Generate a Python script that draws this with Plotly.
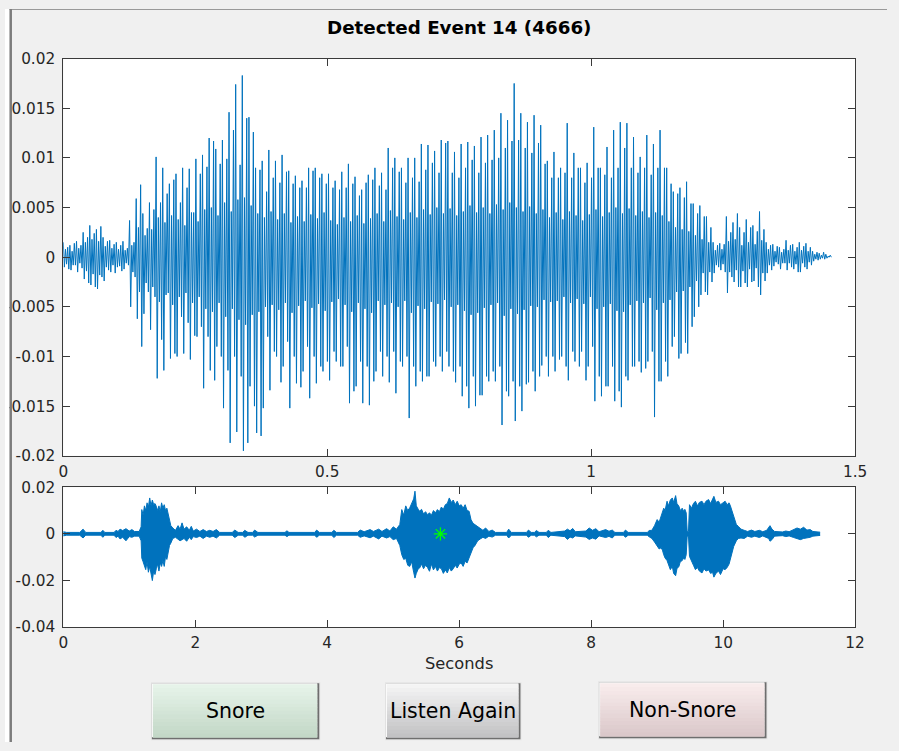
import numpy as np
import plotly.graph_objects as go

W, H = 899, 751

# The page shows the figure slightly reduced and offset inside the window;
# layout positions below are given in window pixels and mapped back here.
VIEW_SX, VIEW_OX = 0.985, 3.5
VIEW_SY, VIEW_OY = 0.978, 8.3

# ---- Detected event waveform ------------------------------------------------
# One entry per pitch period: main peak, main trough, inner ripple peak/trough,
# secondary peak, secondary trough (units of 1e-3).
ev_peak = [1.5, 1.2, 1.6, 2.5, 3.2, 2.8, 2.0, 1.7, 1.5, 1.6,
           3.7, 5.9, 4.4, 5.5, 10.1, 9.0, 7.4, 8.4, 9.0, 8.9,
           9.9, 10.3, 12.0, 10.9, 11.8, 14.6, 17.4, 18.3, 14.1, 9.0,
           9.7, 10.8, 9.7, 10.3, 8.7, 8.2, 7.7, 9.0, 9.0, 8.4,
           8.4, 7.7, 8.6, 9.4, 8.1, 6.8, 8.3, 9.0, 8.5, 11.0,
           10.0, 9.0, 10.0, 10.0, 11.4, 11.3, 10.7, 11.8, 11.7, 10.6,
           11.4, 11.6, 11.2, 12.1, 12.3, 12.8, 14.5, 13.8, 17.5, 14.5,
           13.6, 14.3, 13.3, 9.7, 10.6, 9.0, 13.5, 10.5, 9.0, 9.5,
           13.1, 9.0, 11.1, 12.8, 13.6, 13.5, 12.1, 10.1, 12.3, 11.4,
           12.8, 9.0, 6.6, 7.0, 7.6, 5.4, 5.2, 4.1, 1.5, 1.4,
           4.1, 3.5, 3.0, 3.8, 3.2, 4.6, 1.5, 1.3, 1.0, 1.7,
           1.3, 1.5, 1.4, 0.6, 0.4, 0.3]
ev_trough = [-1.0, -1.3, -1.5, -2.2, -2.8, -3.2, -2.4, -1.5, -1.0, -1.2,
             -5.0, -6.2, -5.7, -7.3, -12.2, -11.4, -10.2, -10.0, -9.7, -10.3,
             -8.0, -13.2, -11.4, -9.0, -15.2, -18.7, -17.6, -19.5, -13.0, -17.7,
             -15.2, -13.4, -10.0, -11.0, -15.2, -12.7, -11.5, -14.2, -12.7, -11.5,
             -12.4, -10.5, -11.0, -14.7, -13.0, -14.7, -14.9, -11.5, -12.0, -12.6,
             -13.7, -11.0, -16.2, -13.0, -12.5, -12.0, -11.0, -11.5, -11.0, -12.6,
             -14.0, -15.2, -15.0, -13.9, -12.5, -12.5, -16.9, -14.0, -16.5, -15.5,
             -12.6, -13.5, -10.9, -12.0, -11.5, -10.0, -12.4, -10.5, -9.5, -11.0,
             -14.5, -14.0, -13.0, -14.5, -15.1, -12.4, -11.0, -11.6, -10.5, -16.1,
             -12.5, -12.0, -8.0, -9.7, -9.7, -6.0, -3.8, -3.8, -1.6, -1.3,
             -3.6, -2.5, -3.0, -3.0, -2.4, -3.8, -1.6, -0.9, -1.2, -1.3,
             -1.2, -1.5, -1.2, -0.4, -0.2, -0.1]
ev_ripple_hi = [0.8, 0.6, 0.9, 1.5, 1.8, 1.6, 1.1, 0.9, 0.8, 0.7,
                1.2, 3.0, 2.2, 2.8, 4.0, 3.5, 4.2, 3.8, 3.2, 4.5,
                3.6, 4.8, 5.0, 4.2, 5.5, 4.6, 5.8, 6.0, 5.2, 4.4,
                4.0, 4.6, 3.8, 4.4, 3.5, 4.1, 3.6, 4.3, 3.9, 4.5,
                3.7, 3.3, 4.0, 3.6, 4.2, 3.4, 3.9, 4.4, 3.6, 4.7,
                4.1, 3.8, 4.5, 4.0, 4.8, 4.3, 5.0, 4.4, 4.9, 4.2,
                4.6, 5.2, 4.5, 5.0, 4.4, 5.3, 4.8, 5.5, 5.0, 4.6,
                5.1, 4.4, 4.8, 4.0, 4.5, 3.8, 4.6, 4.2, 3.7, 4.3,
                4.8, 4.1, 4.5, 5.0, 4.4, 4.9, 4.2, 4.6, 4.0, 4.5,
                4.2, 3.6, 3.0, 2.8, 2.6, 2.2, 1.8, 1.5, 0.7, 0.8,
                1.6, 1.8, 1.2, 1.5, 1.3, 1.7, 0.8, 0.6, 0.5, 0.7,
                0.6, 0.7, 0.6, 0.3, 0.2, 0.1]
ev_ripple_lo = [-0.7, -0.8, -0.6, -1.4, -1.7, -1.8, -1.0, -0.8, -0.9, -0.6,
                -1.5, -3.5, -2.6, -3.0, -4.5, -3.8, -4.8, -4.0, -3.6, -4.6,
                -4.0, -5.2, -5.5, -4.6, -6.0, -5.2, -6.3, -6.8, -5.8, -5.5,
                -5.0, -4.8, -5.3, -4.6, -5.6, -4.9, -4.4, -5.1, -4.7, -5.4,
                -4.5, -4.2, -4.8, -5.5, -4.6, -5.2, -5.6, -4.4, -4.8, -4.6,
                -5.0, -4.4, -5.6, -4.9, -5.2, -4.5, -4.7, -4.3, -5.0, -4.8,
                -5.4, -5.8, -5.6, -5.1, -4.8, -4.6, -5.9, -5.2, -5.7, -5.3,
                -4.9, -5.0, -4.3, -4.5, -4.4, -4.0, -4.6, -4.2, -4.7, -4.0,
                -5.2, -5.0, -4.7, -5.4, -5.5, -4.8, -4.4, -4.6, -4.1, -5.3,
                -4.6, -4.3, -3.5, -3.4, -3.0, -2.4, -1.6, -1.5, -0.8, -0.7,
                -1.5, -1.3, -1.4, -1.2, -1.1, -1.6, -0.8, -0.5, -0.6, -0.6,
                -0.7, -0.6, -0.5, -0.2, -0.1, 0.0]
ev_peak2 = [1.0, 1.4, 1.2, 2.0, 2.4, 3.1, 1.6, 1.3, 1.2, 0.9,
            1.5, 7.3, 2.9, 4.8, 5.5, 6.4, 7.8, 5.5, 7.0, 4.5,
            8.4, 9.1, 11.7, 9.4, 9.9, 12.8, 9.3, 14.0, 12.6, 8.8,
            6.6, 8.0, 7.5, 8.6, 7.4, 7.0, 7.0, 8.7, 8.0, 7.4,
            7.0, 6.8, 7.0, 7.4, 6.2, 7.5, 7.8, 7.2, 6.8, 9.0,
            8.6, 7.5, 8.0, 7.6, 8.8, 9.5, 8.5, 11.5, 8.5, 8.0,
            9.0, 9.8, 8.5, 9.5, 9.8, 10.0, 11.0, 11.7, 11.8, 11.0,
            10.5, 11.5, 9.4, 8.0, 8.0, 8.5, 8.0, 9.0, 7.5, 8.0,
            9.0, 8.3, 8.0, 9.0, 11.0, 9.0, 8.5, 9.0, 8.3, 9.0,
            9.0, 7.4, 6.4, 6.0, 5.4, 4.4, 4.1, 3.0, 1.2, 1.3,
            2.5, 4.4, 2.5, 3.0, 2.6, 2.8, 1.2, 1.1, 0.8, 1.2,
            1.0, 1.1, 1.0, 0.5, 0.5, 0.2]
ev_trough2 = [-1.2, -0.8, -1.1, -2.6, -3.0, -2.0, -1.3, -1.6, -1.4, -0.8,
              -2.0, -9.0, -3.5, -4.0, -8.3, -3.6, -9.7, -6.0, -6.6, -7.9,
              -7.0, -8.0, -12.4, -10.0, -11.4, -10.0, -12.0, -18.7, -15.0, -18.0,
              -8.0, -9.5, -12.6, -8.5, -10.0, -13.1, -9.0, -10.0, -11.0, -10.5,
              -9.5, -11.0, -9.0, -13.5, -10.5, -11.0, -12.5, -9.5, -10.0, -9.5,
              -10.5, -10.0, -11.0, -11.5, -12.0, -10.5, -10.0, -9.5, -11.5, -11.0,
              -13.0, -12.0, -13.9, -12.0, -11.5, -11.0, -13.5, -12.5, -13.0, -12.8,
              -11.5, -12.0, -10.0, -10.0, -10.3, -11.0, -9.5, -11.0, -12.4, -9.0,
              -12.0, -13.0, -11.0, -13.5, -12.0, -11.0, -10.5, -11.2, -9.5, -12.5,
              -10.5, -9.0, -10.2, -8.6, -7.0, -5.0, -3.5, -2.5, -1.0, -1.5,
              -2.0, -3.0, -2.6, -2.5, -3.0, -2.4, -1.3, -0.7, -0.6, -1.0,
              -1.5, -1.0, -0.8, -0.3, -0.2, 0.0]
EVENT_DURATION = 1.455  # seconds

# ---- Whole recording overview (envelope, units of 1e-3) ---------------------
rec_t = [0.00, 0.05, 0.25, 0.30, 0.34, 0.57, 0.60, 0.63, 0.77, 0.80,
         0.83, 0.86, 0.90, 0.95, 1.00, 1.04, 1.08, 1.15, 1.18,
         1.19, 1.21, 1.23, 1.25, 1.27, 1.29, 1.31, 1.33, 1.35, 1.37,
         1.39, 1.41, 1.43, 1.45, 1.47, 1.49, 1.51, 1.53, 1.55, 1.57,
         1.59, 1.61, 1.63, 1.66, 1.70, 1.74, 1.77, 1.80, 1.83, 1.87,
         1.91, 1.94, 1.97, 2.02, 2.07, 2.12, 2.17, 2.22, 2.27, 2.32,
         2.37, 2.56, 2.60, 2.65, 2.72, 2.75, 2.80, 2.87, 2.90, 2.95,
         3.36, 3.39, 3.42, 3.81, 3.84, 3.88, 4.07, 4.10, 4.14, 4.46,
         4.50, 4.56, 4.65, 4.70, 4.78, 4.83, 4.90, 4.95, 5.00, 5.05,
         5.10, 5.13, 5.16, 5.19, 5.22, 5.25, 5.28, 5.31, 5.33, 5.35,
         5.38, 5.40, 5.43, 5.46, 5.49, 5.52, 5.55, 5.58, 5.61, 5.64,
         5.67, 5.70, 5.73, 5.76, 5.79, 5.82, 5.85, 5.88, 5.91, 5.94,
         5.97, 6.00, 6.03, 6.06, 6.09, 6.12, 6.15, 6.18, 6.21, 6.24,
         6.28, 6.32, 6.36, 6.40, 6.45, 6.50, 6.55, 6.72, 6.75, 6.79,
         7.02, 7.05, 7.09, 7.14, 7.17, 7.21, 7.32, 7.35, 7.39, 7.60,
         7.64, 7.68, 7.72, 7.76, 7.92, 7.97, 8.02, 8.07, 8.12, 8.22,
         8.27, 8.32, 8.36, 8.49, 8.52, 8.56, 8.85, 8.88, 8.92, 8.96,
         9.00, 9.03, 9.06, 9.08, 9.10, 9.12, 9.15, 9.17, 9.20, 9.23,
         9.25, 9.28, 9.30, 9.33, 9.35, 9.38, 9.40, 9.42, 9.44, 9.455,
         9.475, 9.49, 9.52, 9.55, 9.58, 9.61, 9.64, 9.68, 9.71, 9.74,
         9.78, 9.81, 9.84, 9.86, 9.89, 9.93, 9.96, 10.00, 10.03, 10.06,
         10.09, 10.11, 10.14, 10.16, 10.20, 10.23, 10.27, 10.32, 10.37, 10.43,
         10.48, 10.55, 10.60, 10.66, 10.69, 10.71, 10.74, 10.78, 10.90, 10.95,
         11.00, 11.07, 11.12, 11.17, 11.22, 11.27, 11.32, 11.36, 11.47]
rec_hi = [0.9, 0.6, 0.6, 2.0, 0.6, 0.6, 1.5, 0.6, 0.6, 1.5,
          1.0, 2.0, 1.4, 2.2, 1.2, 1.8, 1.0, 1.0, 3.0,
          10.4, 8.0, 12.0, 10.0, 13.3, 11.5, 15.4, 12.0, 14.5, 12.5,
          13.0, 11.8, 10.0, 12.0, 9.5, 13.3, 11.0, 12.5, 10.0, 11.0,
          8.0, 6.1, 3.5, 2.5, 1.5, 3.5, 2.0, 4.7, 2.0, 3.0,
          1.5, 3.2, 1.2, 2.0, 1.0, 1.8, 1.0, 1.5, 1.0, 1.8,
          0.6, 0.6, 1.6, 0.6, 0.6, 1.5, 0.6, 0.6, 1.6, 0.6,
          0.6, 1.3, 0.6, 0.6, 1.6, 0.6, 0.6, 1.5, 0.6, 0.6,
          1.6, 0.9, 1.8, 1.0, 2.0, 1.0, 2.2, 1.2, 3.0, 2.0,
          4.0, 10.4, 8.0, 12.0, 10.0, 11.1, 13.0, 15.0, 18.3, 12.0,
          10.5, 9.7, 10.5, 8.5, 9.5, 8.2, 9.0, 8.0, 10.0, 9.0,
          10.4, 9.5, 11.5, 10.5, 12.5, 13.0, 15.4, 13.5, 14.5, 12.5,
          14.0, 12.0, 12.5, 11.0, 12.5, 10.0, 9.7, 6.0, 4.5, 3.9,
          3.0, 2.0, 1.5, 2.5, 1.0, 1.6, 0.6, 0.6, 2.0, 0.6,
          0.6, 1.6, 0.6, 0.6, 1.4, 0.6, 0.6, 1.5, 0.6, 1.2,
          2.0, 1.3, 2.3, 0.9, 1.2, 2.5, 1.5, 2.2, 0.9, 1.8,
          1.1, 1.6, 0.6, 0.6, 1.6, 0.6, 0.6, 1.4, 1.5, 3.5,
          6.1, 5.0, 8.0, 9.0, 11.0, 10.0, 14.0, 12.0, 14.5, 15.4,
          13.5, 16.4, 13.0, 11.8, 10.0, 11.0, 9.7, 10.5, 9.0, 1.0,
          1.0, 12.5, 11.0, 13.0, 14.0, 12.0, 13.5, 14.0, 12.5, 14.0,
          14.7, 13.0, 15.0, 16.1, 13.5, 14.0, 12.5, 13.5, 14.0, 12.5,
          13.3, 12.0, 9.0, 7.5, 4.0, 3.2, 2.0, 1.5, 1.0, 1.6,
          1.0, 1.5, 0.9, 1.5, 2.5, 3.5, 2.0, 1.0, 0.8, 1.2,
          0.9, 1.8, 2.5, 2.0, 2.8, 1.6, 1.8, 1.0, 0.7]
rec_lo = [-0.9, -0.6, -0.6, -1.8, -0.6, -0.6, -1.5, -0.6, -0.6, -1.6,
          -1.0, -2.2, -1.5, -3.0, -1.2, -1.5, -1.0, -1.0, -3.0,
          -10.4, -12.0, -13.5, -15.4, -12.0, -16.5, -14.0, -18.0, -20.1, -16.0,
          -17.5, -15.0, -13.0, -16.0, -12.5, -14.0, -11.5, -14.0, -9.7, -11.0,
          -8.0, -5.0, -4.0, -2.0, -1.5, -2.5, -3.0, -2.5, -2.0, -3.2,
          -1.5, -2.5, -1.2, -1.6, -1.0, -2.0, -1.0, -1.5, -1.0, -1.8,
          -0.6, -0.6, -1.6, -0.6, -0.6, -1.5, -0.6, -0.6, -1.4, -0.6,
          -0.6, -1.2, -0.6, -0.6, -1.5, -0.6, -0.6, -1.6, -0.6, -0.6,
          -1.5, -0.9, -1.7, -1.0, -2.2, -1.0, -1.8, -1.2, -2.5, -2.0,
          -5.0, -9.0, -11.0, -10.5, -13.5, -14.0, -12.0, -16.5, -19.0, -17.0,
          -15.0, -14.7, -13.0, -15.0, -13.5, -14.5, -16.1, -13.0, -15.5, -14.0,
          -16.0, -14.5, -15.0, -17.0, -15.5, -16.8, -14.5, -16.0, -15.0, -13.5,
          -14.7, -13.0, -12.5, -14.0, -11.8, -12.5, -10.0, -8.0, -6.0, -5.0,
          -3.0, -2.2, -1.5, -2.0, -1.0, -1.4, -0.6, -0.6, -1.8, -0.6,
          -0.6, -1.5, -0.6, -0.6, -1.3, -0.6, -0.6, -1.6, -0.6, -1.2,
          -2.4, -1.4, -1.8, -0.9, -1.4, -2.4, -1.8, -2.3, -0.9, -1.6,
          -1.1, -1.8, -0.6, -0.6, -1.5, -0.6, -0.6, -1.3, -2.0, -3.5,
          -5.0, -6.5, -6.0, -7.0, -9.0, -10.4, -11.5, -13.0, -15.4, -14.0,
          -17.0, -18.0, -15.0, -14.0, -12.0, -11.5, -10.4, -11.0, -9.0, -1.0,
          -1.0, -9.7, -12.0, -13.5, -15.4, -14.5, -16.0, -16.8, -15.0, -16.0,
          -15.5, -17.0, -16.5, -18.6, -17.0, -16.0, -17.5, -15.0, -15.4, -14.5,
          -13.0, -11.0, -8.0, -5.4, -3.0, -2.0, -1.8, -2.0, -1.0, -1.5,
          -1.0, -1.6, -0.9, -1.5, -2.0, -3.2, -2.5, -1.0, -0.8, -1.2,
          -0.9, -1.6, -2.2, -2.5, -2.0, -1.8, -1.5, -1.0, -0.7]

# Position of the detected event in the recording
event_t = [5.716]
event_v = [0.0]

# Axis ticks and labels
top_xticks = [0, 0.5, 1, 1.5]
top_xlabels = ["0", "0.5", "1", "1.5"]
top_yticks = [-0.02, -0.015, -0.01, -0.005, 0, 0.005, 0.01, 0.015, 0.02]
top_ylabels = ["-0.02", "-0.015", "-0.01", "-0.005", "0", "0.005", "0.01", "0.015", "0.02"]
bot_xticks = [0, 2, 4, 6, 8, 10, 12]
bot_xlabels = ["0", "2", "4", "6", "8", "10", "12"]
bot_yticks = [-0.04, -0.02, 0, 0.02]
bot_ylabels = ["-0.04", "-0.02", "0", "0.02"]

TITLE = "Detected Event 14 (4666)"
XLABEL = "Seconds"
BUTTONS = ["Snore", "Listen Again", "Non-Snore"]

# ---- derived series ----------------------------------------------------------
ev_samples = np.column_stack([ev_peak, ev_trough, ev_ripple_hi, ev_ripple_lo,
                              ev_peak2, ev_trough2]).ravel() * 1e-3
ev_time = np.linspace(0, EVENT_DURATION, ev_samples.size)
rec_hi_v = np.array(rec_hi) * 1e-3
rec_lo_v = np.array(rec_lo) * 1e-3

BLUE = "#0072BD"
AXC = "#3a3a3a"
TXT = "#262626"
FRAME = "#7c7c7c"
FONT = "DejaVu Sans"


def px(x):
    """Window x (pixels) -> paper fraction."""
    return ((x - VIEW_OX) / VIEW_SX) / W


def py(y):
    """Window y (pixels, downwards) -> paper fraction."""
    return 1 - ((y - VIEW_OY) / VIEW_SY) / H


fig = go.Figure()

fig.add_trace(go.Scatter(x=ev_time, y=ev_samples, mode="lines",
                         line=dict(color=BLUE, width=1),
                         xaxis="x", yaxis="y", showlegend=False))

fig.add_trace(go.Scatter(x=rec_t, y=rec_hi_v, mode="lines",
                         line=dict(color=BLUE, width=1),
                         xaxis="x2", yaxis="y2", showlegend=False))
fig.add_trace(go.Scatter(x=rec_t, y=rec_lo_v, mode="lines",
                         line=dict(color=BLUE, width=1), fill="tonexty",
                         fillcolor=BLUE,
                         xaxis="x2", yaxis="y2", showlegend=False))
fig.add_trace(go.Scatter(x=event_t, y=event_v, mode="markers",
                         marker=dict(symbol="asterisk-open", size=11, color="#00ff00",
                                     line=dict(color="#00ff00", width=1.3)),
                         xaxis="x2", yaxis="y2", showlegend=False))

axis_common = dict(showgrid=False, zeroline=False, showline=True,
                   linecolor=AXC, linewidth=1, mirror="ticks",
                   ticks="inside", ticklen=7, tickwidth=1, tickcolor=AXC,
                   tickfont=dict(family=FONT, size=15.3, color=TXT),
                   fixedrange=True)

fig.update_layout(
    width=W, height=H,
    margin=dict(l=0, r=0, t=0, b=0),
    paper_bgcolor="#f0f0f0",
    plot_bgcolor="#ffffff",
    xaxis=dict(domain=[px(62), px(857)], range=[0, 1.5], anchor="y",
               tickvals=top_xticks, ticktext=top_xlabels, ticklabelstandoff=2,
               **axis_common),
    yaxis=dict(domain=[py(456), py(58)], range=[-0.02, 0.02], anchor="x",
               tickvals=top_yticks, ticktext=top_ylabels, ticklabelstandoff=4,
               **axis_common),
    xaxis2=dict(domain=[px(62), px(857)], range=[0, 12], anchor="y2",
                tickvals=bot_xticks, ticktext=bot_xlabels, ticklabelstandoff=2,
                **axis_common),
    yaxis2=dict(domain=[py(627.5), py(487.5)], range=[-0.04, 0.02], anchor="x2",
                tickvals=bot_yticks, ticktext=bot_ylabels, ticklabelstandoff=4,
                **axis_common),
)

annotations = [
    dict(text="<b>%s</b>" % TITLE, x=px(459.5), y=py(27), xref="paper", yref="paper",
         showarrow=False, xanchor="center", yanchor="middle",
         font=dict(family=FONT, size=18.3, color="#000000")),
    dict(text=XLABEL, x=px(459.5), y=py(664), xref="paper", yref="paper",
         showarrow=False, xanchor="center", yanchor="middle",
         font=dict(family=FONT, size=16.3, color=TXT)),
]

shapes = []

# push buttons with a vertical shading
button_boxes = [(151, 684, 319, 740), (386, 684, 521, 740), (600, 683, 768, 739)]
button_shades = [((0xe6, 0xf3, 0xe9), (0xc3, 0xd8, 0xc7)),
                 ((0xf4, 0xf4, 0xf4), (0xc2, 0xc2, 0xc4)),
                 ((0xf8, 0xec, 0xec), (0xdb, 0xc8, 0xca))]
n_bands = 14
for (x0, y0, x1, y1), (top, bot), label in zip(button_boxes, button_shades, BUTTONS):
    shapes.append(dict(type="rect", xref="paper", yref="paper",
                       x0=px(x0 - 1), x1=px(x1 + 1), y0=py(y1 + 1), y1=py(y0 - 1),
                       fillcolor="#e4e4e4", line=dict(width=0), layer="above"))
    shapes.append(dict(type="rect", xref="paper", yref="paper",
                       x0=px(x0), x1=px(x1), y0=py(y1), y1=py(y0),
                       fillcolor="#6e6e6e", line=dict(width=0), layer="above"))
    shapes.append(dict(type="rect", xref="paper", yref="paper",
                       x0=px(x0), x1=px(x1 - 2), y0=py(y1 - 2), y1=py(y0),
                       fillcolor="#fafafa", line=dict(width=0), layer="above"))
    ix0, ix1, iy0, iy1 = x0 + 1, x1 - 2, y0 + 1, y1 - 2
    step = (iy1 - iy0) / n_bands
    for i in range(n_bands):
        f = i / (n_bands - 1)
        c = tuple(int(round(a + (b - a) * f)) for a, b in zip(top, bot))
        shapes.append(dict(type="rect", xref="paper", yref="paper",
                           x0=px(ix0), x1=px(ix1),
                           y0=py(iy0 + (i + 1) * step + 0.5), y1=py(iy0 + i * step),
                           fillcolor="rgb(%d,%d,%d)" % c, line=dict(width=0),
                           layer="above"))
    annotations.append(dict(text=label, x=px((x0 + x1) / 2), y=py((y0 + y1) / 2),
                            xref="paper", yref="paper", showarrow=False,
                            xanchor="center", yanchor="middle",
                            font=dict(family=FONT, size=20.5, color="#000000")))

# window edge: white margin on the left, then the dark frame line
shapes += [
    dict(type="rect", xref="paper", yref="paper", x0=0, x1=px(8), y0=0, y1=1,
         fillcolor="#ffffff", line=dict(width=0), layer="above"),
    dict(type="rect", xref="paper", yref="paper", x0=px(8), x1=px(10.5), y0=0, y1=1,
         fillcolor=FRAME, line=dict(width=0), layer="above"),
    dict(type="rect", xref="paper", yref="paper", x0=px(8), x1=1, y0=py(9), y1=1,
         fillcolor=FRAME, line=dict(width=0), layer="above"),
]

fig.update_layout(shapes=shapes, annotations=annotations)

# Page around the figure: white strip on the left and top, frame line, panel grey
page_bg = ("linear-gradient(to right, #ffffff 8px, transparent 8px), "
           "linear-gradient(#ffffff 6px, %s 6px, %s 9px, transparent 9px), "
           "linear-gradient(to right, transparent 8px, %s 8px, %s 10.5px, transparent 10.5px), "
           "#f0f0f0") % (FRAME, FRAME, FRAME, FRAME)
fig.write_html("out.html",
               post_script="document.documentElement.style.background='%s';" % page_bg)
